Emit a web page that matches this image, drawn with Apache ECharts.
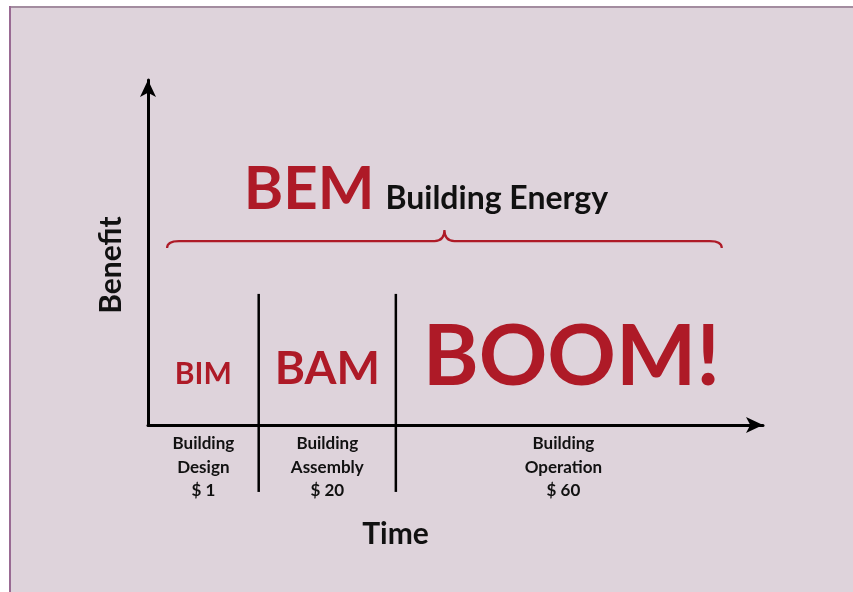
<!DOCTYPE html>
<html>
<head>
<meta charset="utf-8">
<script src="https://cdn.jsdelivr.net/npm/echarts@6/dist/echarts.min.js"></script>
<style>
  html, body { margin: 0; padding: 0; background: #ffffff; }
  #chart { width: 853px; height: 592px; }
</style>
</head>
<body>
<div id="chart"></div>
<script>
// ---- data ----
const phaseNames = ['Building\nDesign', 'Building\nAssembly', 'Building\nOperation'];
const phaseCosts = [1, 20, 60];
const phaseAcronyms = ['BIM', 'BAM', 'BOOM!'];
const phaseBounds = [0, 18.0, 40.3, 94.8];     // time-axis extent of each phase
const dividerRange = [-19.4, 38.0];            // benefit-axis extent of divider lines
const acronymLevel = 12.2;                      // benefit level of acronym baselines
const spanAcronym = 'BEM';
const spanName = 'Building Energy';
const braceSpan = [3.1, 93.3];                  // time extent of the BEM brace
const braceLevel = 53.3;                        // benefit level of the brace
const spanLabelLevel = 62.9;                    // benefit level of BEM baseline
const axisNames = { x: 'Time', y: 'Benefit' };

// ---- styles ----
const RED = '#AE1A27';
const FONT = 'Lato, "Open Sans", sans-serif';
const acronymSizes = [30, 46, 85];
const acronymShift = [0, 0, 8];

const chart = echarts.init(document.getElementById('chart'), null, { renderer: 'canvas' });

const phaseData = phaseAcronyms.map((a, i) => [
  (phaseBounds[i] + phaseBounds[i + 1]) / 2, acronymLevel, i
]);
const dividerData = phaseBounds.slice(1, phaseBounds.length - 1).map(b => [b, dividerRange[0], dividerRange[1]]);

const option = {
  backgroundColor: '#DED3DB',
  animation: false,
  graphic: [
    { type: 'rect', shape: { x: 0, y: 0, width: 853, height: 6 }, style: { fill: '#ffffff' }, silent: true },
    { type: 'rect', shape: { x: 0, y: 0, width: 9, height: 592 }, style: { fill: '#ffffff' }, silent: true },
    { type: 'line', shape: { x1: 9, y1: 7, x2: 853, y2: 7 }, style: { stroke: '#A38C9F', lineWidth: 2 }, silent: true },
    { type: 'line', shape: { x1: 10, y1: 6, x2: 10, y2: 592 }, style: { stroke: '#996A93', lineWidth: 2 }, silent: true }
  ],
  grid: { left: 148, top: 80, width: 615, height: 345, containLabel: false },
  xAxis: {
    type: 'value', min: 0, max: 100,
    name: axisNames.x, nameLocation: 'middle', nameGap: 94,
    nameTextStyle: { fontFamily: FONT, fontWeight: 'bold', fontSize: 30, color: '#111111', padding: [0, 120, 0, 0] },
    axisLine: { show: true, symbol: ['none', 'arrow'], symbolSize: [12, 17], lineStyle: { color: '#000000', width: 3 } },
    axisTick: { show: false }, axisLabel: { show: false }, splitLine: { show: false }
  },
  yAxis: {
    type: 'value', min: 0, max: 100,
    name: axisNames.y, nameLocation: 'middle', nameGap: 22, nameRotate: 90,
    nameTextStyle: { fontFamily: FONT, fontWeight: 'bold', fontSize: 30, color: '#111111', padding: [0, 25, 0, 0] },
    axisLine: { show: true, symbol: ['none', 'arrow'], symbolSize: [12, 17], lineStyle: { color: '#000000', width: 3 } },
    axisTick: { show: false }, axisLabel: { show: false }, splitLine: { show: false }
  },
  series: [
    {
      name: 'dividers', type: 'custom', clip: false, silent: true,
      encode: { x: 0, y: [1, 2] },
      data: dividerData,
      renderItem: function (params, api) {
        const p1 = api.coord([api.value(0), api.value(1)]);
        const p2 = api.coord([api.value(0), api.value(2)]);
        return { type: 'line', shape: { x1: p1[0], y1: p1[1], x2: p2[0], y2: p2[1] },
                 style: { stroke: '#000000', lineWidth: 2.5 } };
      }
    },
    {
      name: 'phases', type: 'custom', clip: false, silent: true,
      encode: { x: 0, y: 1 },
      data: phaseData,
      renderItem: function (params, api) {
        const i = api.value(2);
        const p = api.coord([api.value(0), api.value(1)]);
        const base = api.coord([api.value(0), 0]);
        const fs = acronymSizes[i];
        return {
          type: 'group',
          children: [
            { type: 'text', style: {
                text: phaseAcronyms[i], x: p[0] + acronymShift[i], y: p[1] - fs * 0.3,
                align: 'center', verticalAlign: 'middle',
                fontFamily: FONT, fontWeight: 'bold', fontSize: fs, fill: RED } },
            { type: 'text', style: {
                text: phaseNames[i] + '\n$ ' + phaseCosts[i], x: base[0], y: base[1] + 7,
                align: 'center', verticalAlign: 'top', lineHeight: 23.5,
                fontFamily: FONT, fontWeight: 'bold', fontSize: 17, fill: '#111111' } }
          ]
        };
      }
    },
    {
      name: 'brace', type: 'custom', clip: false, silent: true,
      encode: { x: [0, 2], y: 1 },
      data: [[braceSpan[0], braceLevel, braceSpan[1]]],
      renderItem: function (params, api) {
        const a = api.coord([api.value(0), api.value(1)]);
        const b = api.coord([api.value(2), api.value(1)]);
        const y = a[1], l = a[0], r = b[0], m = (l + r) / 2;
        const d = 'M' + l + ' ' + (y + 7) +
          ' Q' + l + ' ' + y + ' ' + (l + 12) + ' ' + y +
          ' L' + (m - 10) + ' ' + y +
          ' Q' + m + ' ' + y + ' ' + m + ' ' + (y - 11) +
          ' Q' + m + ' ' + y + ' ' + (m + 10) + ' ' + y +
          ' L' + (r - 12) + ' ' + y +
          ' Q' + r + ' ' + y + ' ' + r + ' ' + (y + 7);
        const t = api.coord([(api.value(0) + api.value(2)) / 2, spanLabelLevel]);
        return {
          type: 'group',
          children: [
            { type: 'path', shape: { pathData: d }, style: { stroke: RED, lineWidth: 2.2, fill: null } },
            { type: 'text', style: {
                text: spanAcronym, x: t[0] - 70, y: t[1] - 60 * 0.3,
                align: 'right', verticalAlign: 'middle',
                fontFamily: FONT, fontWeight: 'bold', fontSize: 60, fill: RED } },
            { type: 'text', style: {
                text: spanName, x: t[0] - 59, y: t[1] - 32 * 0.3,
                align: 'left', verticalAlign: 'middle',
                fontFamily: FONT, fontWeight: 'bold', fontSize: 32, fill: '#111111' } }
          ]
        };
      }
    }
  ]
};
chart.setOption(option);
</script>
</body>
</html>
